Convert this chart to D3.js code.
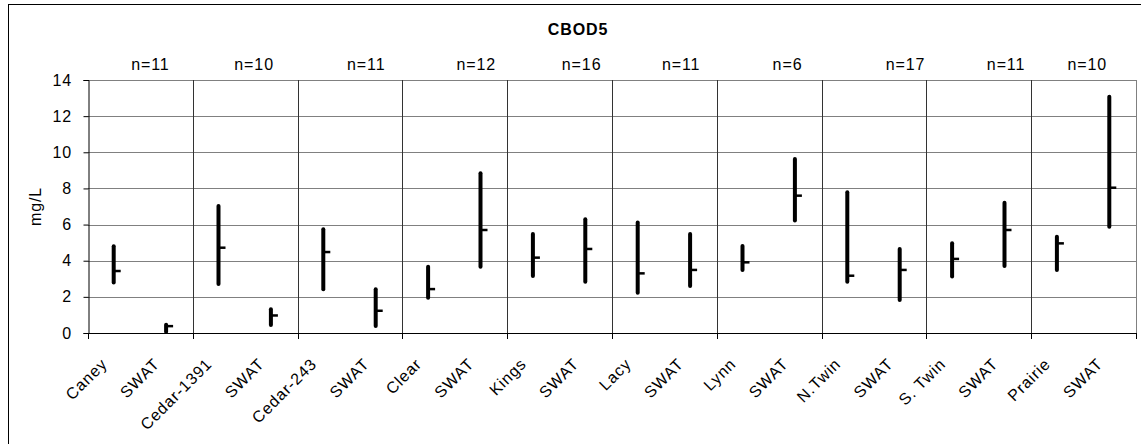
<!DOCTYPE html>
<html>
<head>
<meta charset="utf-8">
<script src="https://cdn.jsdelivr.net/npm/d3@7"></script>
<style>
  body { margin: 0; background: #fff; }
  svg { display: block; font-family: "Liberation Sans", Arial, sans-serif; }
</style>
</head>
<body>
<svg id="chart" width="1141" height="444"></svg>
<script>
// ---- data ----
const categories = ["Caney","SWAT","Cedar-1391","SWAT","Cedar-243","SWAT","Clear","SWAT","Kings","SWAT",
                    "Lacy","SWAT","Lynn","SWAT","N.Twin","SWAT","S. Twin","SWAT","Prairie","SWAT"];
const maxValues  = [4.80, 0.45, 7.03, 1.31, 5.74, 2.42, 3.67, 8.84, 5.48, 6.29,
                    6.11, 5.48, 4.81, 9.63, 7.79, 4.65, 4.96, 7.21, 5.33, 13.08];
const minValues  = [2.80, 0.05, 2.71, 0.44, 2.42, 0.39, 1.95, 3.67, 3.15, 2.84,
                    2.23, 2.60, 3.49, 6.22, 2.84, 1.83, 3.12, 3.71, 3.49, 5.88];
const meanValues = [3.43, 0.38, 4.72, 0.97, 4.48, 1.23, 2.43, 5.70, 4.17, 4.65,
                    3.30, 3.49, 3.91, 7.60, 3.17, 3.49, 4.10, 5.70, 4.96, 8.04];
const nLabels    = ["n=11","n=10","n=11","n=12","n=16","n=11","n=6","n=17","n=11","n=10"];
const nLabelPos  = [1.19, 3.17, 5.31, 7.41, 9.42, 11.32, 13.35, 15.60, 17.52, 19.07]; // in category units
const yTicks     = [0, 2, 4, 6, 8, 10, 12, 14];
const title      = "CBOD5";
const yTitle     = "mg/L";

// ---- layout ----
const plot = { left: 88, right: 1136, top: 80, bottom: 333 };
const fs = 16, ls = 0.9;
const svg = d3.select("#chart");

const x = d3.scaleBand().domain(d3.range(categories.length)).range([plot.left, plot.right]).padding(0);
const xu = d3.scaleLinear().domain([0, categories.length]).range([plot.left, plot.right]);
const y = d3.scaleLinear().domain([0, 14]).range([plot.bottom, plot.top]);

// outer chart border
svg.append("rect").attr("x", 8.5).attr("y", 4.5).attr("width", 1200).attr("height", 600)
  .attr("fill", "none").attr("stroke", "#000").attr("stroke-width", 1);

// horizontal gridlines
svg.append("g").selectAll("line").data(yTicks.filter(d => d > 0)).join("line")
  .attr("x1", plot.left).attr("x2", plot.right)
  .attr("y1", d => Math.round(y(d)) + 0.5).attr("y2", d => Math.round(y(d)) + 0.5)
  .attr("stroke", "#808080").attr("stroke-width", 1);

// right plot border
svg.append("line").attr("x1", plot.right + 0.5).attr("x2", plot.right + 0.5)
  .attr("y1", plot.top).attr("y2", plot.bottom).attr("stroke", "#808080");

// vertical gridlines at group boundaries
const groupBounds = d3.range(2, categories.length, 2);
svg.append("g").selectAll("line").data(groupBounds).join("line")
  .attr("x1", d => Math.round(xu(d)) + 0.5).attr("x2", d => Math.round(xu(d)) + 0.5)
  .attr("y1", plot.top).attr("y2", plot.bottom)
  .attr("stroke", "#333").attr("stroke-width", 1);

// text helper
function txt(g, s, tx, ty, rot, anchor, weight) {
  return g.append("text")
    .attr("transform", `translate(${tx},${ty}) rotate(${rot})`)
    .attr("text-anchor", anchor).attr("font-size", fs).attr("letter-spacing", ls)
    .attr("font-weight", weight || "normal")
    .attr("fill", "#000").text(s);
}

// y axis
const yAxis = d3.axisLeft(y).tickValues(yTicks).tickSize(5).tickFormat(() => "");
const ya = svg.append("g").attr("transform", `translate(${plot.left + 0.5},0)`).call(yAxis);
ya.select(".domain").attr("stroke", "#000");
ya.selectAll(".tick line").attr("stroke", "#000");
yTicks.forEach(t => txt(svg, String(t), 72, y(t) + 5.5, 0, "end"));

// x axis (line + ticks every 2 categories)
svg.append("line").attr("x1", plot.left).attr("x2", plot.right + 1)
  .attr("y1", plot.bottom + 0.5).attr("y2", plot.bottom + 0.5).attr("stroke", "#000");
svg.append("g").selectAll("line").data(d3.range(0, categories.length + 1, 2)).join("line")
  .attr("x1", d => Math.round(xu(d)) + 0.5).attr("x2", d => Math.round(xu(d)) + 0.5)
  .attr("y1", plot.bottom).attr("y2", plot.bottom + 6).attr("stroke", "#000");

// x labels
categories.forEach((c, i) => {
  const cx = x(i) + x.bandwidth() / 2;
  txt(svg, c, cx - 6, plot.bottom + 32, -45, "end");
});

// range bars
const bars = svg.append("g");
categories.forEach((c, i) => {
  const cx = x(i) + x.bandwidth() / 2 - 0.5;
  bars.append("line").attr("x1", cx).attr("x2", cx)
    .attr("y1", y(maxValues[i])).attr("y2", y(minValues[i]))
    .attr("stroke", "#000").attr("stroke-width", 4).attr("stroke-linecap", "round");
  bars.append("line").attr("x1", cx).attr("x2", cx + 7)
    .attr("y1", y(meanValues[i])).attr("y2", y(meanValues[i]))
    .attr("stroke", "#000").attr("stroke-width", 2.5);
});

// n labels
nLabels.forEach((n, i) => txt(svg, n, xu(nLabelPos[i]), 70, 0, "middle"));

// title
txt(svg, title, 578, 35, 0, "middle", "bold");

// y title
txt(svg, yTitle, 41, (plot.top + plot.bottom) / 2, -90, "middle");
</script>
</body>
</html>
